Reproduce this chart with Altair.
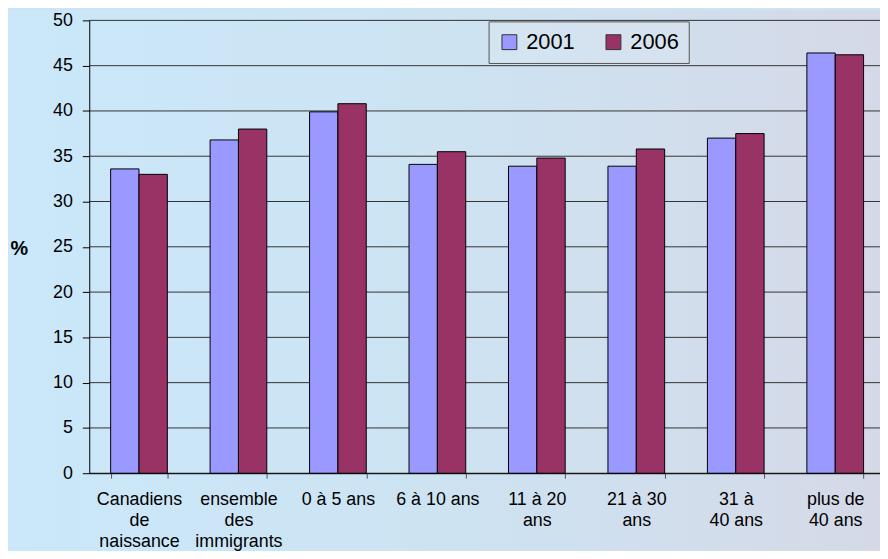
import altair as alt
import pandas as pd

categories = ["Canadiens|de|naissance", "ensemble|des|immigrants", "0 à 5 ans", "6 à 10 ans",
              "11 à 20|ans", "21 à 30|ans", "31 à|40 ans", "plus de|40 ans"]
years = ["2001", "2006"]
v2001 = [33.6, 36.8, 39.9, 34.1, 33.9, 33.9, 37.0, 46.4]
v2006 = [33.0, 38.0, 40.8, 35.5, 34.8, 35.8, 37.5, 46.2]
colors = ["#9999FF", "#993366"]
y_ticks = list(range(0, 51, 5))

rows = []
for c, a, b in zip(categories, v2001, v2006):
    rows.append({"cat": c, "year": "2001", "val": a})
    rows.append({"cat": c, "year": "2006", "val": b})
df = pd.DataFrame(rows)
grid_df = pd.DataFrame({"val": y_ticks})

FONT = "Liberation Sans"

bg = alt.Chart(pd.DataFrame({"a": [0]})).mark_rect(
    color=alt.Gradient(gradient="linear",
                       stops=[alt.GradientStop(color="#cae8fa", offset=0),
                              alt.GradientStop(color="#cde3f2", offset=0.5),
                              alt.GradientStop(color="#d5d9e7", offset=1)],
                       x1=0, x2=1, y1=0, y2=0)
).encode(x=alt.value(-82), x2=alt.value(800), y=alt.value(-10), y2=alt.value(545))

grid = alt.Chart(grid_df).mark_rule(color="#333333", strokeWidth=1).encode(
    y=alt.Y("val:Q", scale=alt.Scale(domain=[0, 50])),
    x=alt.value(0), x2=alt.value(798),
)

bars = alt.Chart(df).mark_bar(stroke="#000000", strokeWidth=1).encode(
    x=alt.X("cat:N", sort=categories,
            scale=alt.Scale(range=[0, 803], paddingInner=0.43, paddingOuter=0.215),
            axis=alt.Axis(title=None, labelAngle=0, labelExpr="split(datum.label, '|')",
                          tickBand="extent", tickSize=5, tickColor="#555555",
                          labelPadding=13, labelFontSize=18, labelLineHeight=21,
                          labelBaseline="top", labelColor="#000000",
                          domainColor="#000000", grid=False, zindex=2)),
    xOffset=alt.XOffset("year:N", sort=years),
    y=alt.Y("val:Q", scale=alt.Scale(domain=[0, 50]),
            axis=alt.Axis(values=y_ticks, title="%", titleAngle=0,
                          titleX=-71, titleY=230, titleAlign="center", titleBaseline="middle",
                          titleFontWeight="bold", titleFontSize=20, titleColor="#000000",
                          tickSize=7, tickColor="#000000", labelPadding=10,
                          labelFontSize=18, labelColor="#000000", domainColor="#000000",
                          grid=False, zindex=2)),
    color=alt.Color("year:N", scale=alt.Scale(domain=years, range=colors),
                    legend=alt.Legend(title=None, orient="none", legendX=403, legendY=1,
                                      direction="horizontal", symbolType="square",
                                      symbolSize=225, symbolStrokeColor="#333333",
                                      symbolStrokeWidth=1, labelFontSize=22,
                                      labelColor="#000000", labelOffset=6,
                                      columnPadding=28, padding=10,
                                      strokeColor="#555555", fillColor="rgba(255,255,255,0.12)",
                                      zindex=3)),
)

chart = alt.layer(bg, grid, bars).properties(
    width=798, height=457,
    autosize=alt.AutoSizeParams(type="none"),
    padding={"left": 82, "top": 10, "right": 0, "bottom": 76},
    background="#cde3f2",
).configure_view(stroke=None).configure_axis(labelFont=FONT, titleFont=FONT).configure_legend(
    labelFont=FONT)

chart.save("out.html", embed_options={"renderer": "svg", "actions": False})
